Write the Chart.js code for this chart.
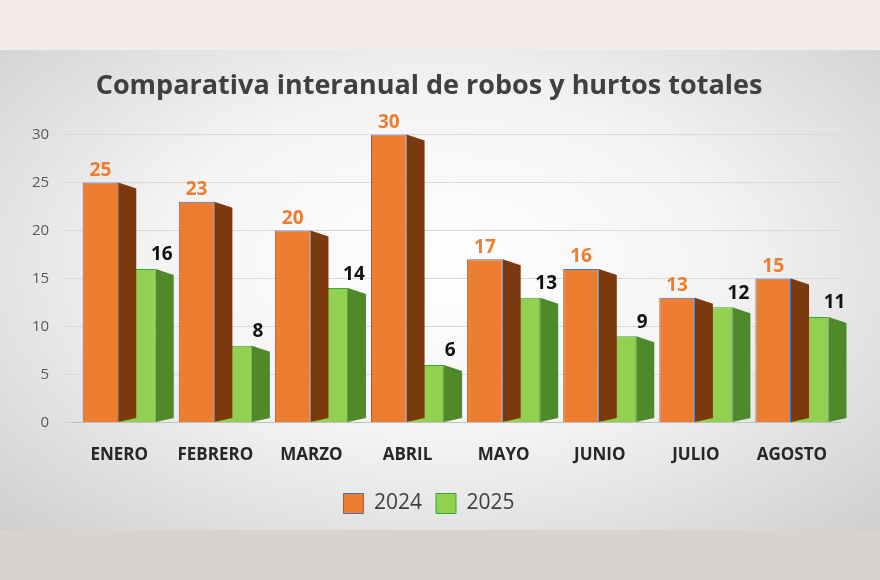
<!DOCTYPE html>
<html>
<head>
<meta charset="utf-8">
<script src="https://cdn.jsdelivr.net/npm/chart.js@4"></script>
<style>
  html, body { margin: 0; padding: 0; width: 880px; height: 580px; overflow: hidden; }
  body { background: linear-gradient(#f3ecea 0, #f3ecea 50px, #e6e6e6 50px, #e6e6e6 530px, #d8d2d0 530px); }
  #panel {
    position: absolute; left: 0; top: 50px; width: 880px; height: 480px;
    background: radial-gradient(ellipse at 50% 45%, #ffffff 0%, #f4f4f4 45%, #cfcfcf 100%);
  }
</style>
</head>
<body>
<div id="panel"><canvas id="chart" width="880" height="480"></canvas></div>
<script>
const months = ["ENERO", "FEBRERO", "MARZO", "ABRIL", "MAYO", "JUNIO", "JULIO", "AGOSTO"];
const robos2024 = [25, 23, 20, 30, 17, 16, 13, 15];
const robos2025 = [16, 8, 14, 6, 13, 9, 12, 11];

// fake 3D side faces and value labels
const depthPlugin = {
  id: "depth",
  afterDatasetsDraw(chart) {
    const ctx = chart.ctx;
    const colors = [["#7a3a0e", "#ED7D31"], ["#4f8a2a", "#92D050"]];
    chart.data.datasets.forEach((ds, di) => {
      chart.getDatasetMeta(di).data.forEach((bar, i) => {
        const right = bar.x + bar.width / 2;
        const d = 18;
        ctx.save();
        ctx.fillStyle = colors[di][0];
        ctx.beginPath();
        ctx.moveTo(right, bar.y);
        ctx.lineTo(right + d, bar.y + 6);
        ctx.lineTo(right + d, bar.base - 4);
        ctx.lineTo(right, bar.base);
        ctx.closePath();
        ctx.fill();
        ctx.font = "bold 19px 'Open Sans', sans-serif";
        ctx.textAlign = "center";
        ctx.fillStyle = di === 0 ? "#ED7D31" : "#111111";
        const lx = di === 0 ? bar.x : right + 6;
        const ly = di === 0 ? bar.y - 12 : bar.y - 14;
        ctx.fillText(ds.data[i], lx, ly);
        ctx.restore();
      });
    });
  }
};

new Chart(document.getElementById("chart").getContext("2d"), {
  type: "bar",
  data: {
    labels: months,
    datasets: [
      { label: "2024", data: robos2024, backgroundColor: "#ED7D31", borderColor: "#4472C4", borderWidth: 1 },
      { label: "2025", data: robos2025, backgroundColor: "#92D050", borderColor: "#38a838", borderWidth: 1 },
    ],
  },
  options: {
    animation: false,
    responsive: false,
    layout: { padding: { left: 18, right: 40, top: 0, bottom: 6 } },
    datasets: { bar: { categoryPercentage: 0.78, barPercentage: 0.95 } },
    plugins: {
      title: {
        display: true,
        text: "Comparativa interanual de robos y hurtos totales",
        color: "#404040",
        font: { size: 27, weight: "bold", family: "'Open Sans', sans-serif" },
        padding: { top: 20, bottom: 32 },
      },
      legend: {
        position: "bottom",
        labels: { color: "#404040", font: { size: 21, family: "'Open Sans', sans-serif" }, boxWidth: 20, boxHeight: 20, padding: 14 },
      },
      tooltip: { enabled: false },
    },
    scales: {
      x: {
        grid: { display: false },
        border: { color: "#bfbfbf" },
        ticks: { color: "#262626", font: { size: 17, weight: "bold", family: "'Open Sans', sans-serif" }, padding: 14 },
      },
      y: {
        min: 0, max: 30,
        ticks: { stepSize: 5, color: "#595959", font: { size: 15, family: "'Open Sans', sans-serif" }, padding: 14 },
        grid: { color: "#d9d9d9" },
        border: { display: false },
      },
    },
  },
  plugins: [depthPlugin],
});
</script>
</body>
</html>
